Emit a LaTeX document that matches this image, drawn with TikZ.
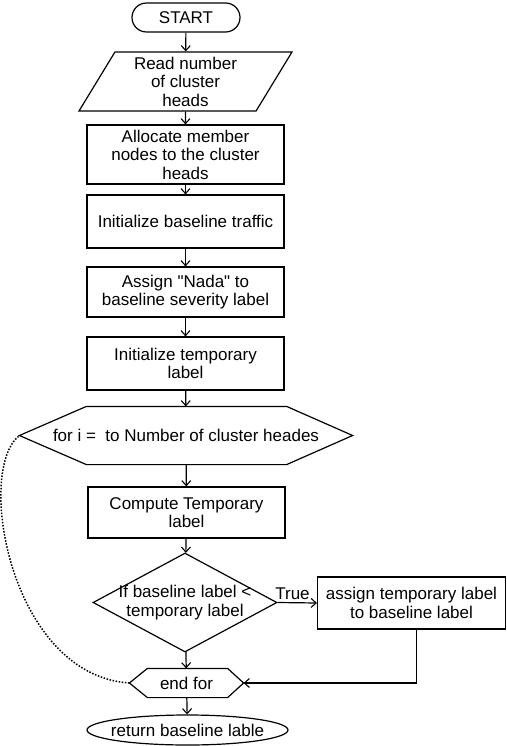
\documentclass[tikz,border=0pt]{standalone}
\usepackage{fontspec}
\setmainfont{Liberation Sans}[Ligatures=TeXOff]
\usetikzlibrary{shapes.geometric,arrows.meta,calc}
\tikzset{
  base/.style={font=\fontsize{17}{18.5}\selectfont, inner sep=0pt, align=center, line width=1.2pt},
  box/.style={base, draw, rectangle, minimum width=197pt},
  plain/.style={base},
  conn/.style={line width=1.2pt, -{Straight Barb[length=5pt,width=9pt,line width=1.1pt]}},
}
\begin{document}
\begin{tikzpicture}[x=1pt,y=1pt]
\useasboundingbox (0,0) rectangle (506,-746);
% nodes
\node[base, draw, rounded corners=14.5pt, minimum width=108pt, minimum height=29pt] (start) at (186,-17.5) {START};
\node[base, draw, trapezium, trapezium left angle=54, trapezium right angle=126, trapezium stretches body, minimum width=213pt, minimum height=59pt] (read) at (185.5,-81.5) {Read number\\of cluster\\heads};
\node[box, minimum height=59pt] (alloc) at (185.5,-154.5) {Allocate member\\nodes to the cluster\\heads};
\node[box, minimum height=53pt] (init) at (185.5,-221.5) {Initialize baseline traffic};
\node[box, minimum height=50pt] (nada) at (185.5,-292) {Assign "Nada" to\\baseline severity label};
\node[box, minimum height=53pt] (temp) at (185.5,-363.5) {Initialize temporary\\label};
\node[plain, minimum width=332pt, minimum height=57pt] (for) at (186,-435.5) {for i =\ \ to Number of cluster heades};
\draw[line width=1.2pt] (for.west) -- ($(for.north west)+(67,0)$) -- ($(for.north east)+(-66,0)$) -- (for.east) -- ($(for.south east)+(-66,0)$) -- ($(for.south west)+(67,0)$) -- cycle;
\node[box, minimum height=51pt] (compute) at (186.5,-512.5) {Compute Temporary\\label};
\node[base, draw, diamond, minimum width=184pt, minimum height=99pt] (cond) at (185,-602.5) {};
\node[plain] (condtext) at (cond) {If baseline label <\\temporary label};
\node[box, minimum width=188pt, minimum height=52pt] (assign) at (411.5,-603) {assign temporary label\\to baseline label};
\node[plain, minimum width=113pt, minimum height=28pt] (endfor) at (186.5,-683) {end for};
\draw[line width=1.2pt] (endfor.west) -- ($(endfor.north west)+(18,0)$) -- ($(endfor.north east)+(-16,0)$) -- (endfor.east) -- ($(endfor.south east)+(-16,0)$) -- ($(endfor.south west)+(18,0)$) -- cycle;
\node[base, draw, ellipse, minimum width=201pt, minimum height=30pt] (ret) at (187.5,-730) {};
\node[plain] (rettext) at (ret) {return baseline lable};
% connectors
\draw[conn] (start) -- (read);
\draw[conn] (read) -- (alloc);
\draw[conn] (alloc) -- (init);
\draw[conn] (init) -- (nada);
\draw[conn] (nada) -- (temp);
\draw[conn] (temp) -- (for);
\draw[conn] (for) -- (compute);
\draw[conn] (compute) -- (cond);
\draw[conn] (cond) -- (endfor);
\draw[conn] (endfor) -- (ret);
\draw[conn] (cond.east) -- node[base, above, pos=0.38, yshift=2pt] {True} (assign.west);
\draw[conn] ($(assign.south)+(5,0)$) |- (endfor.east);
\draw[line width=1.5pt, dash pattern=on 1.5pt off 1.6pt] (endfor.west) .. controls (10,-675) and (-25,-470) .. (for.west);
\end{tikzpicture}
\end{document}
